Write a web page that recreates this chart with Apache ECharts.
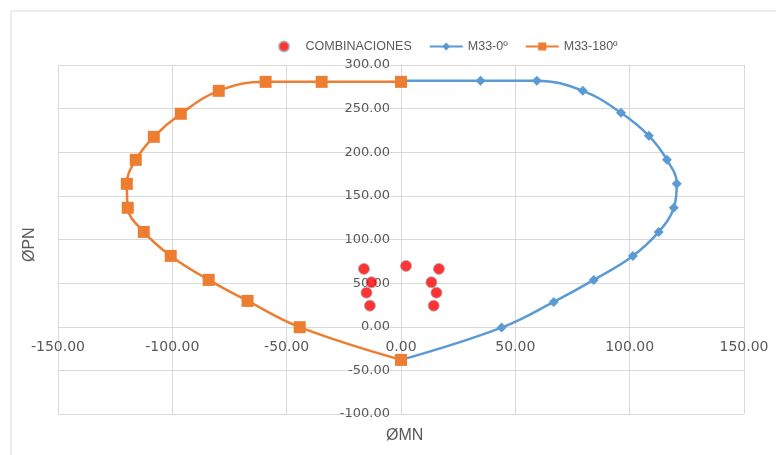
<!DOCTYPE html>
<html>
<head>
<meta charset="utf-8">
<script src="https://cdn.jsdelivr.net/npm/echarts@6/dist/echarts.min.js"></script>
<style>html,body{margin:0;padding:0;background:#fff}#c{width:776px;height:455px}</style>
</head>
<body>
<div id="c"></div>
<script>
// Series names
const seriesNames = ['COMBINACIONES', 'M33-0º', 'M33-180º'];
// COMBINACIONES points
const combX = [-16.2, -12.9, -15.1, -13.6, 2.2, 16.6, 13.3, 15.5, 14.3];
const combY = [66.3, 51.0, 39.1, 24.2, 69.7, 66.3, 51.0, 39.1, 24.2];
// M33-0º curve
const m0X = [0, 44, 66.8, 84.3, 101.4, 112.7, 119.3, 120.6, 116.3, 108.4, 96.2, 79.5, 59.4, 34.8, 0];
const m0Y = [-38, -1, 28.4, 53.7, 81.2, 108.7, 136.3, 163.8, 191.3, 218.8, 245.2, 270.4, 281.9, 281.9, 281.9];
// M33-180º curve
const m180X = [0, -44.3, -67.1, -84.1, -100.7, -112.5, -119.5, -119.9, -116, -108.1, -96.3, -79.7, -59.2, -34.7, 0];
const m180Y = [-38, -0.5, 29.6, 53.7, 81.2, 108.7, 136.3, 163.8, 191.3, 217.7, 244.1, 270.4, 280.7, 280.7, 280.7];
// Axis settings
const xTicks = { min: -150, max: 150, interval: 50 };
const yTicks = { min: -100, max: 300, interval: 50 };
const xTitle = 'ØMN';
const yTitle = 'ØPN';

const pairs = (xs, ys) => xs.map((x, i) => [x, ys[i]]);
const chart = echarts.init(document.getElementById('c'), null, { renderer: 'canvas' });
const grey = '#595959';
const gridColor = '#d9d9d9';
const G = { left: 58, right: 32, top: 65, bottom: 41 };
const plotW = 776 - G.left - G.right;
const plotH = 455 - G.top - G.bottom;
// offsets that place each axis (with its labels) at the other axis' zero
const xAxisOffset = -plotH * (0 - yTicks.min) / (yTicks.max - yTicks.min);
const yAxisOffset = -plotW * (0 - xTicks.min) / (xTicks.max - xTicks.min);
chart.setOption({
  animation: false,
  backgroundColor: '#fff',
  grid: { left: G.left, right: G.right, top: G.top, bottom: G.bottom, containLabel: false },
  legend: {
    left: 273, top: 35, itemWidth: 33, itemHeight: 10, itemGap: 17,
    textStyle: { color: grey, fontSize: 12.5, fontFamily: 'Liberation Sans' },
    data: seriesNames
  },
  xAxis: {
    type: 'value', min: xTicks.min, max: xTicks.max, interval: xTicks.interval,
    position: 'bottom', offset: xAxisOffset,
    axisLine: { onZero: false, lineStyle: { color: gridColor } },
    axisTick: { show: false },
    splitLine: { lineStyle: { color: gridColor } },
    axisLabel: { color: grey, fontSize: 14, fontFamily: 'DejaVu Sans', margin: 14, formatter: v => v.toFixed(2) }
  },
  yAxis: {
    type: 'value', min: yTicks.min, max: yTicks.max, interval: yTicks.interval,
    position: 'left', offset: yAxisOffset,
    axisLine: { onZero: false, lineStyle: { color: gridColor } },
    axisTick: { show: false },
    splitLine: { lineStyle: { color: gridColor } },
    axisLabel: { color: grey, fontSize: 13, fontFamily: 'DejaVu Sans', margin: 11, formatter: v => v.toFixed(2) }
  },
  graphic: [
    { type: 'rect', shape: { x: 11, y: 11, width: 800, height: 500 }, style: { fill: 'none', stroke: gridColor, lineWidth: 1 }, silent: true, z: -10 },
    { type: 'text', left: 386, top: 428, style: { text: xTitle, fill: grey, font: '16px "Liberation Sans"' } },
    { type: 'text', x: 22, y: 262, rotation: Math.PI / 2, style: { text: yTitle, fill: grey, font: '16px "Liberation Sans"' } }
  ],
  series: [
    {
      name: seriesNames[0], type: 'scatter', data: pairs(combX, combY),
      symbol: 'circle', symbolSize: 11,
      itemStyle: { color: '#ff0000', borderColor: '#a6a6a6', borderWidth: 1 }, z: 5
    },
    {
      name: seriesNames[1], type: 'line', data: pairs(m0X, m0Y), smooth: 0.4,
      symbol: 'diamond', symbolSize: 10, showAllSymbol: true,
      lineStyle: { color: '#5b9bd5', width: 2.5 },
      itemStyle: { color: '#5b9bd5' }
    },
    {
      name: seriesNames[2], type: 'line', data: pairs(m180X, m180Y), smooth: 0.4,
      symbol: 'rect', symbolSize: 12, showAllSymbol: true,
      lineStyle: { color: '#ed7d31', width: 2.5 },
      itemStyle: { color: '#ed7d31' }
    }
  ]
});
</script>
</body>
</html>
